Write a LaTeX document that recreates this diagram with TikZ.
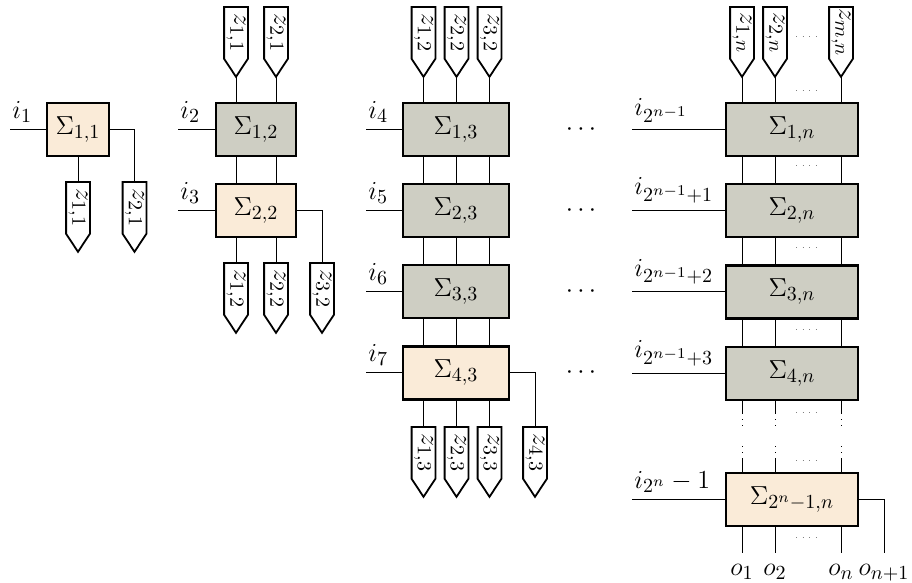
\RequirePackage{fix-cm}
\documentclass[tikz,border=0pt]{standalone}
\usepackage{graphicx}
\usetikzlibrary{calc}
\DeclareMathSizes{13}{13}{10}{7.5}
\definecolor{beige}{RGB}{250,235,216}
\definecolor{sgray}{RGB}{206,206,195}
\newcommand\zpent[4]{%
  \node[zbody, anchor=north] (#1) at (#2,#3) {\rotatebox{-90}{$#4$}};
  \coordinate (#1-tip) at ($(#1.south)+(0,18)$);
  \draw[zline] (#1.north west) -- (#1.south west) -- (#1-tip) -- (#1.south east) -- (#1.north east) -- cycle;}
\begin{document}
\begin{tikzpicture}[x=0.5pt,y=-0.5pt,
  font=\fontsize{13}{15}\selectfont,
  sbox/.style={draw, line width=1.3pt, minimum height=26.5pt, inner sep=0pt},
  fbox/.style={sbox, fill=beige},
  gbox/.style={sbox, fill=sgray},
  zbody/.style={minimum width=11.5pt, minimum height=25.5pt, inner sep=0pt},
  zline/.style={line width=0.9pt, line join=miter},
  wire/.style={line width=0.5pt},
  hdots/.style={gray, line width=0.5pt, dash pattern=on 0.5pt off 2.8pt},
  vdots/.style={line width=0.5pt, dash pattern=on 0.5pt off 2.5pt},
  ilab/.style={anchor=south west, inner sep=0pt, xshift=1pt, yshift=3.5pt},
  olab/.style={anchor=north, inner sep=0pt, yshift=-5.5pt},
  ]
\useasboundingbox (0,0) rectangle (912,583);

% ---------- column 1
\node[fbox, minimum width=31pt] (b11) at (78,129.5) {$\Sigma_{1,1}$};
\coordinate (in1) at (10,129.5);
\draw[wire] (in1) -- (b11.west);
\node[ilab] (li1) at (in1) {$i_1$};
\zpent{pa1}{78}{182}{z_{1,1}}
\zpent{pa2}{134.5}{182}{z_{2,1}}
\draw[wire] (b11.south -| pa1.north) -- (pa1.north);
\draw[wire] (b11.east) -| (pa2.north);

% ---------- column 2
\node[gbox, minimum width=40pt] (b12) at (256,129.5) {$\Sigma_{1,2}$};
\node[fbox, minimum width=40pt] (b22) at (256,210.5) {$\Sigma_{2,2}$};
\coordinate (in2) at (178,129.5);
\coordinate (in3) at (178,210.5);
\draw[wire] (in2) -- (b12.west);
\draw[wire] (in3) -- (b22.west);
\node[ilab] (li2) at (in2) {$i_2$};
\node[ilab] (li3) at (in3) {$i_3$};
\zpent{pb1}{236}{7}{z_{1,1}}
\zpent{pb2}{276}{7}{z_{2,1}}
\foreach \p in {pb1,pb2}{
  \draw[wire] (\p-tip) -- (\p-tip |- b12.north);
  \draw[wire] (b12.south -| \p-tip) -- (b22.north -| \p-tip);
}
\zpent{pc1}{236}{263}{z_{1,2}}
\zpent{pc2}{276}{263}{z_{2,2}}
\zpent{pc3}{322}{263}{z_{3,2}}
\draw[wire] (b22.south -| pc1.north) -- (pc1.north);
\draw[wire] (b22.south -| pc2.north) -- (pc2.north);
\draw[wire] (b22.east) -| (pc3.north);

% ---------- column 3
\node[gbox, minimum width=53pt] (b13) at (456,129.5) {$\Sigma_{1,3}$};
\node[gbox, minimum width=53pt] (b23) at (456,210.5) {$\Sigma_{2,3}$};
\node[gbox, minimum width=53pt] (b33) at (456,291.5) {$\Sigma_{3,3}$};
\node[fbox, minimum width=53pt] (b43) at (456,373) {$\Sigma_{4,3}$};
\coordinate (in4) at (366,129.5);
\coordinate (in5) at (366,210.5);
\coordinate (in6) at (366,291.5);
\coordinate (in7) at (366,373);
\draw[wire] (in4) -- (b13.west);
\draw[wire] (in5) -- (b23.west);
\draw[wire] (in6) -- (b33.west);
\draw[wire] (in7) -- (b43.west);
\node[ilab] (li4) at (in4) {$i_4$};
\node[ilab] (li5) at (in5) {$i_5$};
\node[ilab] (li6) at (in6) {$i_6$};
\node[ilab] (li7) at (in7) {$i_7$};
\zpent{pd1}{423.5}{7}{z_{1,2}}
\zpent{pd2}{456.5}{7}{z_{2,2}}
\zpent{pd3}{489.5}{7}{z_{3,2}}
\foreach \p in {pd1,pd2,pd3}{
  \draw[wire] (\p-tip) -- (\p-tip |- b13.north);
  \draw[wire] (b13.south -| \p-tip) -- (b23.north -| \p-tip);
  \draw[wire] (b23.south -| \p-tip) -- (b33.north -| \p-tip);
  \draw[wire] (b33.south -| \p-tip) -- (b43.north -| \p-tip);
}
\zpent{pe1}{423.5}{427}{z_{1,3}}
\zpent{pe2}{456.5}{427}{z_{2,3}}
\zpent{pe3}{489.5}{427}{z_{3,3}}
\zpent{pe4}{535}{427}{z_{4,3}}
\foreach \p in {pe1,pe2,pe3}{
  \draw[wire] (b43.south -| \p.north) -- (\p.north);
}
\draw[wire] (b43.east) -| (pe4.north);

% ---------- dots between columns
\node (d1) at (581,129.5) {$\cdots$};
\node (d2) at (581,210.5) {$\cdots$};
\node (d3) at (581,291.5) {$\cdots$};
\node (d4) at (581,373) {$\cdots$};

% ---------- column n
\node[gbox, minimum width=66pt] (b1n) at (792,129.5) {$\Sigma_{1,n}$};
\node[gbox, minimum width=66pt] (b2n) at (792,210.5) {$\Sigma_{2,n}$};
\node[gbox, minimum width=66pt] (b3n) at (792,292) {$\Sigma_{3,n}$};
\node[gbox, minimum width=66pt] (b4n) at (792,373.5) {$\Sigma_{4,n}$};
\node[fbox, minimum width=66pt] (bln) at (792,499.5) {$\Sigma_{2^n-1,n}$};
\coordinate (inA) at (632,129.5);
\coordinate (inB) at (632,210.5);
\coordinate (inC) at (632,292);
\coordinate (inD) at (632,373.5);
\coordinate (inE) at (632,499.5);
\draw[wire] (inA) -- (b1n.west);
\draw[wire] (inB) -- (b2n.west);
\draw[wire] (inC) -- (b3n.west);
\draw[wire] (inD) -- (b4n.west);
\draw[wire] (inE) -- (bln.west);
\node[ilab] (liA) at (inA) {$i_{2^{n-1}}$};
\node[ilab] (liB) at (inB) {$i_{2^{n-1}+1}$};
\node[ilab] (liC) at (inC) {$i_{2^{n-1}+2}$};
\node[ilab] (liD) at (inD) {$i_{2^{n-1}+3}$};
\node[ilab] (liE) at (inE) {$i_{2^n}-1$};
\zpent{pf1}{742}{7}{z_{1,n}}
\zpent{pf2}{775}{7}{z_{2,n}}
\zpent{pf3}{841}{7}{z_{m,n}}
\foreach \p in {pf1,pf2,pf3}{
  \draw[wire] (\p-tip) -- (\p-tip |- b1n.north);
  \draw[wire] (b1n.south -| \p-tip) -- (b2n.north -| \p-tip);
  \draw[wire] (b2n.south -| \p-tip) -- (b3n.north -| \p-tip);
  \draw[wire] (b3n.south -| \p-tip) -- (b4n.north -| \p-tip);
  \coordinate (\p-a) at ($(b4n.south -| \p-tip)+(0,12)$);
  \coordinate (\p-b) at ($(bln.north -| \p-tip)+(0,-13)$);
  \draw[wire] (b4n.south -| \p-tip) -- (\p-a);
  \draw[vdots] (\p-a) -- ++(0,16);
  \draw[vdots] (\p-b) -- ++(0,-15);
  \draw[wire] (\p-b) -- (bln.north -| \p-tip);
}
\foreach \y in {37,91,166,248,330,412,460,537}{
  \draw[hdots] (796,\y) -- (818,\y);
}
\coordinate (o1) at (742,553);
\coordinate (o2) at (775,553);
\coordinate (o3) at (841,553);
\coordinate (o4) at (884,553);
\draw[wire] (bln.south -| o1) -- (o1);
\draw[wire] (bln.south -| o2) -- (o2);
\draw[wire] (bln.south -| o3) -- (o3);
\draw[wire] (bln.east) -| (o4);
\node[olab] (lo1) at (o1) {$o_1$};
\node[olab] (lo2) at (o2) {$o_2$};
\node[olab] (lo3) at (o3) {$o_n$};
\node[olab] (lo4) at (o4) {$o_{n+1}$};
\end{tikzpicture}
\end{document}
